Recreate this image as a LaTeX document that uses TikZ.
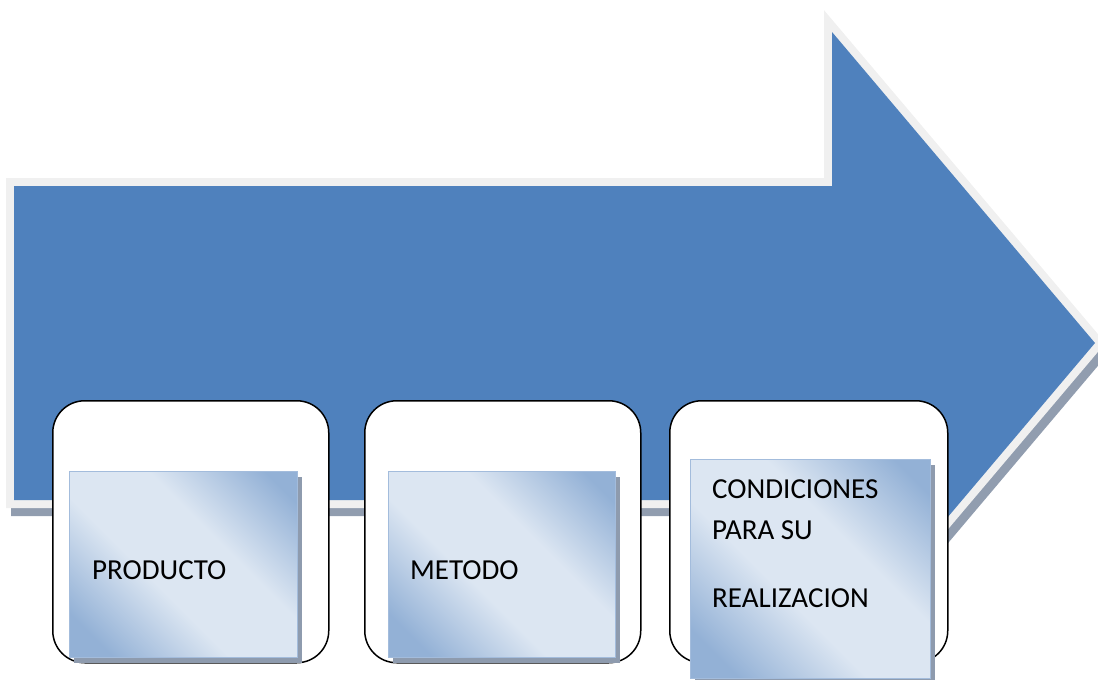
\documentclass[tikz,border=0pt]{standalone}
\usepackage{fontspec}
\setmainfont{Carlito}
\usetikzlibrary{shadows}
\definecolor{arrowblue}{HTML}{4F81BD}
\definecolor{rimgray}{HTML}{F0F0F0}
\definecolor{shadowgray}{HTML}{919DAF}
\definecolor{boxdark}{HTML}{93B1D6}
\definecolor{boxlight}{HTML}{DCE6F2}
\definecolor{boxedge}{HTML}{A3BCDC}
\definecolor{boxshadow}{HTML}{8E9BAE}
\pgfdeclarehorizontalshading{boxshade}{100bp}{color(0bp)=(boxdark); color(22bp)=(boxdark); color(42bp)=(boxlight); color(60bp)=(boxlight); color(80bp)=(boxdark); color(100bp)=(boxdark)}
\tikzset{
  roundbox/.style={draw=black, line width=1.5pt, fill=white, rounded corners=32pt,
    anchor=north west, inner sep=0pt, minimum width=276pt, minimum height=262pt},
  innerbox/.style={draw=boxedge, line width=1.2pt, shading=boxshade, shading angle=45,
    anchor=north west, inner sep=0pt,
    drop shadow={shadow xshift=4pt, shadow yshift=-5pt, fill=boxshadow, opacity=1}},
  lbl/.style={anchor=base west, inner sep=0pt, font=\fontsize{29}{35}\selectfont, text=black},
  arrowshape/.style={line width=16pt, line join=miter}
}
\begin{document}
\begin{tikzpicture}[x=1pt,y=-1pt]
\useasboundingbox (0,0) rectangle (1098,680);
\coordinate (a1) at (14,186);
\coordinate (a2) at (832,186);
\coordinate (a3) at (832,32);
\coordinate (a4) at (1095,343);
\coordinate (a5) at (832,654);
\coordinate (a6) at (832,500);
\coordinate (a7) at (14,500);
% shadow of the arrow
\draw[arrowshape, draw=shadowgray, fill=shadowgray]
  ([shift={(5,8)}]a1) -- ([shift={(5,8)}]a2) -- ([shift={(5,8)}]a3) -- ([shift={(5,8)}]a4)
  -- ([shift={(5,8)}]a5) -- ([shift={(5,8)}]a6) -- ([shift={(5,8)}]a7) -- cycle;
% light rim
\draw[arrowshape, draw=rimgray, fill=rimgray]
  (a1) -- (a2) -- (a3) -- (a4) -- (a5) -- (a6) -- (a7) -- cycle;
% blue arrow body
\fill[arrowblue] (a1) -- (a2) -- (a3) -- (a4) -- (a5) -- (a6) -- (a7) -- cycle;

% rounded white boxes
\node[roundbox] (r1) at (52,400) {};
\node[roundbox] (r2) at (364,400) {};
\node[roundbox, minimum width=278pt] (r3) at (669,400) {};

% shaded inner boxes
\node[innerbox, minimum width=228pt, minimum height=186pt] (p1) at (69,471) {};
\node[innerbox, minimum width=227pt, minimum height=186pt] (p2) at (388,471) {};
\node[innerbox, minimum width=240pt, minimum height=219pt] (p3) at (690,459) {};

% labels
\node[lbl] (t1) at (92,579) {PRODUCTO};
\node[lbl] (t2) at (410,579) {METODO};
\node[lbl] (t3) at (712,498) {CONDICIONES};
\node[lbl] (t4) at (712,539) {PARA SU};
\node[lbl] (t5) at (712,607) {REALIZACION};
\end{tikzpicture}
\end{document}
